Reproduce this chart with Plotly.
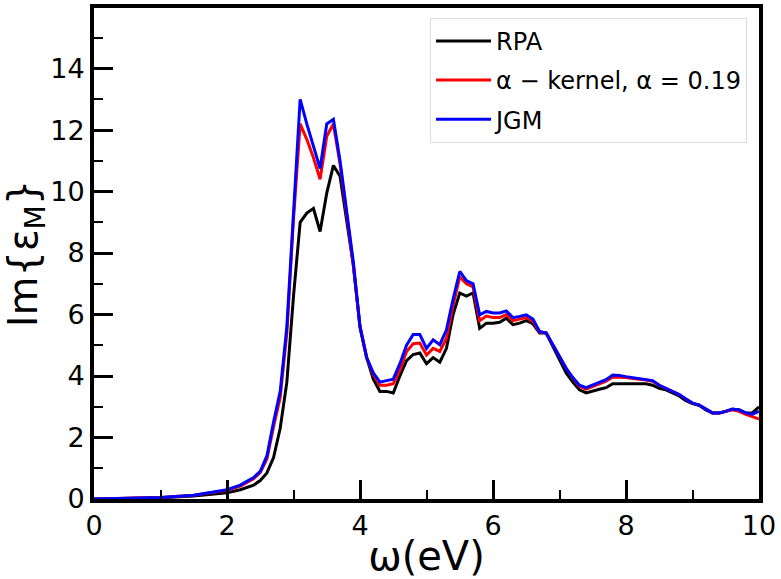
import plotly.graph_objects as go

omega = [0.0, 0.5, 1.0, 1.5, 2.0, 2.2, 2.4, 2.5, 2.6, 2.7, 2.8, 2.9, 3.0,
         3.1, 3.2, 3.3, 3.4, 3.5, 3.6, 3.7, 3.8, 3.9, 4.0, 4.1, 4.2, 4.3,
         4.4, 4.5, 4.6, 4.7, 4.8, 4.9, 5.0, 5.1, 5.2, 5.3, 5.4, 5.5, 5.6,
         5.7, 5.8, 5.9, 6.0, 6.1, 6.2, 6.3, 6.4, 6.5, 6.6, 6.7, 6.8, 6.9,
         7.0, 7.1, 7.2, 7.3, 7.4, 7.5, 7.6, 7.7, 7.8, 7.9, 8.0, 8.1, 8.2,
         8.3, 8.4, 8.5, 8.6, 8.7, 8.8, 8.9, 9.0, 9.1, 9.2, 9.3, 9.4, 9.5,
         9.6, 9.7, 9.8, 9.9, 10.0]

rpa = [0.0, 0.01, 0.04, 0.1, 0.2, 0.3, 0.45, 0.6, 0.85, 1.35, 2.3, 3.8, 6.6,
       9.0, 9.3, 9.45, 8.7, 9.95, 10.85, 10.5, 9.1, 7.6, 5.6, 4.6, 3.9, 3.5,
       3.5, 3.45, 4.0, 4.5, 4.7, 4.75, 4.4, 4.6, 4.45, 4.9, 6.0, 6.7, 6.6,
       6.7, 5.55, 5.72, 5.72, 5.75, 5.88, 5.67, 5.72, 5.8, 5.7, 5.4, 5.4, 4.95,
       4.5, 4.1, 3.8, 3.55, 3.45, 3.52, 3.57, 3.62, 3.75, 3.75, 3.75, 3.75, 3.75,
       3.75, 3.7, 3.6, 3.55, 3.45, 3.35, 3.2, 3.1, 3.05, 2.9, 2.8, 2.8, 2.85,
       2.92, 2.9, 2.8, 2.8, 3.0]

alpha_kernel = [0.0, 0.015, 0.05, 0.12, 0.28, 0.42, 0.66, 0.86, 1.3, 2.35, 3.3, 5.4, 9.1,
                12.2, 11.7, 11.1, 10.4, 11.8, 12.2, 10.9, 9.2, 7.6, 5.6, 4.6, 4.05, 3.7,
                3.7, 3.75, 4.2, 4.8, 5.05, 5.07, 4.68, 4.9, 4.8, 5.23, 6.3, 7.22, 7.0,
                6.9, 5.8, 5.95, 5.9, 5.9, 6.0, 5.8, 5.85, 5.9, 5.78, 5.43, 5.4, 5.0,
                4.6, 4.25, 3.93, 3.67, 3.57, 3.65, 3.75, 3.83, 3.97, 3.97, 3.95, 3.92, 3.9,
                3.87, 3.83, 3.7, 3.6, 3.5, 3.4, 3.25, 3.12, 3.05, 2.92, 2.8, 2.8, 2.85,
                2.9, 2.85, 2.75, 2.68, 2.6]

jgm = [0.0, 0.015, 0.05, 0.12, 0.3, 0.45, 0.7, 0.9, 1.4, 2.5, 3.5, 5.6, 9.4,
       13.0, 12.2, 11.5, 10.75, 12.2, 12.35, 11.0, 9.3, 7.7, 5.6, 4.6, 4.1, 3.8,
       3.85, 3.9, 4.4, 5.0, 5.35, 5.35, 4.9, 5.18, 5.02, 5.5, 6.5, 7.4, 7.1,
       7.0, 5.99, 6.1, 6.05, 6.05, 6.12, 5.9, 5.94, 5.99, 5.85, 5.45, 5.4, 5.0,
       4.6, 4.25, 3.95, 3.7, 3.62, 3.7, 3.8, 3.88, 4.03, 4.02, 3.98, 3.95, 3.92,
       3.89, 3.85, 3.7, 3.6, 3.5, 3.4, 3.25, 3.12, 3.05, 2.92, 2.8, 2.8, 2.85,
       2.93, 2.9, 2.8, 2.76, 2.85]

series_names = ["RPA", "α − kernel, α = 0.19", "JGM"]
series_values = [rpa, alpha_kernel, jgm]
colors = ["#000000", "#ff0000", "#0000ff"]

x_ticks = [0, 2, 4, 6, 8, 10]
y_ticks = [0, 2, 4, 6, 8, 10, 12, 14]

fig = go.Figure()
for i, (name, vals, col) in enumerate(zip(series_names, series_values, colors)):
    fig.add_trace(go.Scatter(
        x=omega, y=vals, mode="lines", name=name,
        line=dict(color=col, width=3),
        legendgroup=f"g{i}",
    ))

font_family = "DejaVu Sans"
axis_common = dict(
    showline=True, linecolor="black", linewidth=4, mirror=True,
    ticks="inside", tickcolor="black", tickwidth=3, ticklen=19,
    showgrid=False, zeroline=False,
    tickfont=dict(family=font_family, size=27, color="black"),
)

fig.update_xaxes(
    range=[0, 10], tickvals=x_ticks, ticktext=[str(v) for v in x_ticks],
    minor=dict(ticks="inside", ticklen=9, tickwidth=2, tickcolor="black", dtick=1, tick0=0),
    title=dict(text="ω(eV)", font=dict(family=font_family, size=40, color="black"), standoff=0),
    **axis_common,
)
fig.update_yaxes(
    range=[0, 15.97], tickvals=y_ticks, ticktext=[str(v) for v in y_ticks],
    minor=dict(ticks="inside", ticklen=9, tickwidth=2, tickcolor="black", dtick=1, tick0=0),
    title=dict(text="Im{ε<sub>M</sub>}", font=dict(family=font_family, size=40, color="black"), standoff=0),
    **axis_common,
)

fig.update_layout(
    width=781, height=579,
    margin=dict(l=94, r=22, t=4, b=80),
    paper_bgcolor="white", plot_bgcolor="white",
    showlegend=True,
    legend=dict(
        x=0.982, y=0.98, xanchor="right", yanchor="top",
        bgcolor="rgba(255,255,255,0.85)", bordercolor="#dddddd", borderwidth=1,
        font=dict(family=font_family, size=24, color="black"),
        tracegroupgap=5, itemwidth=55,
    ),
)

fig.write_html("out.html")
